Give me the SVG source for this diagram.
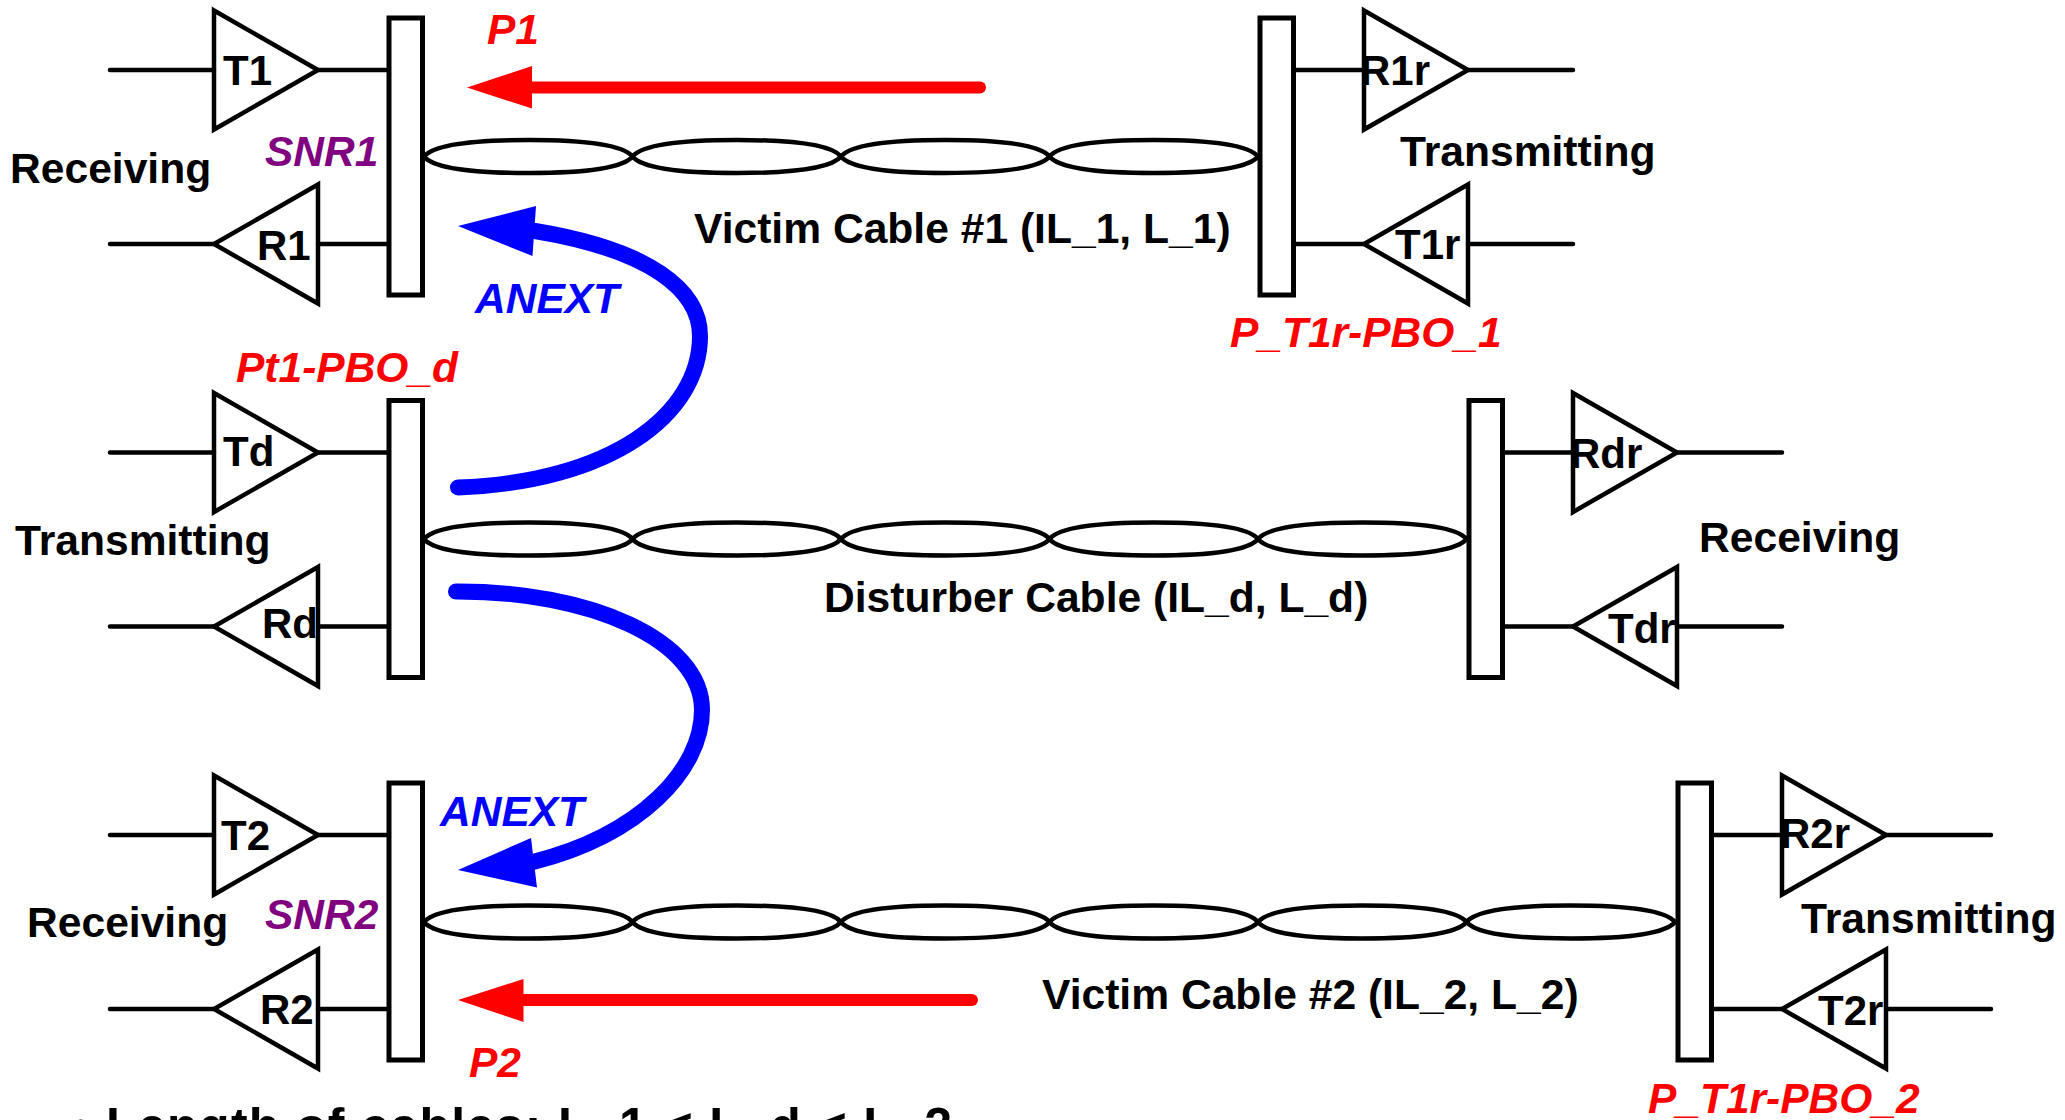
<svg xmlns="http://www.w3.org/2000/svg" xmlns:xlink="http://www.w3.org/1999/xlink" width="2065" height="1120" viewBox="0 0 2065 1120">
<style>
text{font-family:"Liberation Sans",Arial,sans-serif;font-weight:bold;font-size:42.600px;fill:#000}
.n{font-size:42px}
.it{font-style:italic;font-size:42.500px}
.red{fill:#f00}.blue{fill:#00f}.pur{fill:#800080}
.w{fill:#fff;stroke:#000;stroke-width:5;stroke-linejoin:miter}
.l{fill:none;stroke:#000;stroke-width:4.500;stroke-linecap:round}
.e{fill:none;stroke:#000;stroke-width:4.500}
.tri{fill:none;stroke:#000;stroke-width:4.500;stroke-linejoin:miter}
</style>
<defs>
<path id="twist" class="e" d="M0 0C9 -11 42 -16.500 104.250 -16.500C166.500 -16.500 199.500 -11 208.500 0C199.500 11 166.500 16.500 104.250 16.500C42 16.500 9 11 0 0Z"/>
<polygon id="tr" points="0,-59.500 104,0 0,59.500" class="tri"/>
<polygon id="tl" points="104,-59.500 0,0 104,59.500" class="tri"/>
</defs>
<rect width="2065" height="1120" fill="#fff"/>
<g id="connectors">
<path class="l" d="M110 70H214M318 70H388M110 244H214M318 244H388"/>
<path class="l" d="M110 452.500H214M318 452.500H388M110 626.500H214M318 626.500H388"/>
<path class="l" d="M110 835H214M318 835H388M110 1009H214M318 1009H388"/>
<path class="l" d="M1295 70H1364M1468 70H1573M1295 244H1364M1468 244H1573"/>
<path class="l" d="M1504 452.500H1573M1677 452.500H1782M1504 626.500H1573M1677 626.500H1782"/>
<path class="l" d="M1713 835H1782M1886 835H1991M1713 1009H1782M1886 1009H1991"/>
<g id="cable-1"><use xlink:href="#twist" x="424" y="156.500"/><use xlink:href="#twist" x="632.500" y="156.500"/><use xlink:href="#twist" x="841" y="156.500"/><use xlink:href="#twist" x="1049.500" y="156.500"/></g>
<g id="cable-d"><use xlink:href="#twist" x="424" y="539"/><use xlink:href="#twist" x="632.500" y="539"/><use xlink:href="#twist" x="841" y="539"/><use xlink:href="#twist" x="1049.500" y="539"/><use xlink:href="#twist" x="1258" y="539"/></g>
<g id="cable-2"><use xlink:href="#twist" x="424" y="922"/><use xlink:href="#twist" x="632.500" y="922"/><use xlink:href="#twist" x="841" y="922"/><use xlink:href="#twist" x="1049.500" y="922"/><use xlink:href="#twist" x="1258" y="922"/><use xlink:href="#twist" x="1466.500" y="922"/></g>
<g id="arrow-p1"><path d="M532 87.500H980" fill="none" stroke="#f00" stroke-width="12" stroke-linecap="round"/><polygon points="467,87.500 532,66 532,108.500" fill="#f00"/></g>
<g id="arrow-p2"><path d="M523 1000H972" fill="none" stroke="#f00" stroke-width="12" stroke-linecap="round"/><polygon points="458,1000 523.500,979 523.500,1022" fill="#f00"/></g>
<g id="arrow-anext-1"><path d="M458 487.500C610 482 700 415 700 336C700 290 650 250 535 231" fill="none" stroke="#00f" stroke-width="16" stroke-linecap="round"/><polygon points="458,226 536,206 532.500,256" fill="#00f"/></g>
<g id="arrow-anext-2"><path d="M456 591.500C590 591 702 640 702 710C702 770 640 835 533 862" fill="none" stroke="#00f" stroke-width="16" stroke-linecap="round"/><polygon points="458,870 531,838 537,887.500" fill="#00f"/></g>
</g>
<g id="T1"><use xlink:href="#tr" x="214" y="70"/><text class="n" x="223" y="85">T1</text></g>
<g id="R1"><use xlink:href="#tl" x="214" y="244"/><text class="n" x="257" y="260">R1</text></g>
<g id="Td"><use xlink:href="#tr" x="214" y="452.500"/><text class="n" x="223" y="466">Td</text></g>
<g id="Rd"><use xlink:href="#tl" x="214" y="626.500"/><text class="n" x="262" y="638">Rd</text></g>
<g id="T2"><use xlink:href="#tr" x="214" y="835"/><text class="n" x="221" y="850">T2</text></g>
<g id="R2"><use xlink:href="#tl" x="214" y="1009"/><text class="n" x="260" y="1024">R2</text></g>
<g id="R1r"><use xlink:href="#tr" x="1364" y="70"/><text class="n" x="1360" y="85">R1r</text></g>
<g id="T1r"><use xlink:href="#tl" x="1364" y="244"/><text class="n" x="1395" y="259">T1r</text></g>
<g id="Rdr"><use xlink:href="#tr" x="1573" y="452.500"/><text class="n" x="1570" y="468">Rdr</text></g>
<g id="Tdr"><use xlink:href="#tl" x="1573" y="626.500"/><text class="n" x="1608" y="643">Tdr</text></g>
<g id="R2r"><use xlink:href="#tr" x="1782" y="835"/><text class="n" x="1780" y="848">R2r</text></g>
<g id="T2r"><use xlink:href="#tl" x="1782" y="1009"/><text class="n" x="1818" y="1025">T2r</text></g>
<g id="bus-1"><rect x="389" y="18" width="33.500" height="277" class="w"/></g>
<g id="bus-d"><rect x="389" y="400.500" width="33.500" height="277" class="w"/></g>
<g id="bus-2"><rect x="389" y="783" width="33.500" height="277" class="w"/></g>
<g id="bus-1r"><rect x="1260" y="18" width="33.500" height="277" class="w"/></g>
<g id="bus-dr"><rect x="1469" y="400.500" width="33.500" height="277" class="w"/></g>
<g id="bus-2r"><rect x="1678" y="783" width="33.500" height="277" class="w"/></g>
<g id="labels">
<text x="10" y="183">Receiving</text>
<text x="1400" y="166">Transmitting</text>
<text x="15" y="555">Transmitting</text>
<text x="1699" y="552">Receiving</text>
<text x="27" y="937">Receiving</text>
<text x="1801" y="933">Transmitting</text>
<text x="694" y="243">Victim Cable #1 (IL_1, L_1)</text>
<text x="824" y="612">Disturber Cable (IL_d, L_d)</text>
<text x="1042" y="1009">Victim Cable #2 (IL_2, L_2)</text>
<text class="it red" x="487" y="44">P1</text>
<text class="it red" x="469" y="1077">P2</text>
<text class="it pur" x="265" y="166">SNR1</text>
<text class="it pur" x="265" y="929">SNR2</text>
<text class="it blue" x="475" y="313">ANEXT</text>
<text class="it blue" x="440" y="826">ANEXT</text>
<text class="it red" x="236" y="382">Pt1-PBO_d</text>
<text class="it red" x="1230" y="347">P_T1r-PBO_1</text>
<text class="it red" x="1648" y="1113">P_T1r-PBO_2</text>
<text x="72" y="1143" style="font-size:50px" textLength="880">• Length of cables: L_1 &lt; L_d &lt; L_2</text>
</g>
</svg>
